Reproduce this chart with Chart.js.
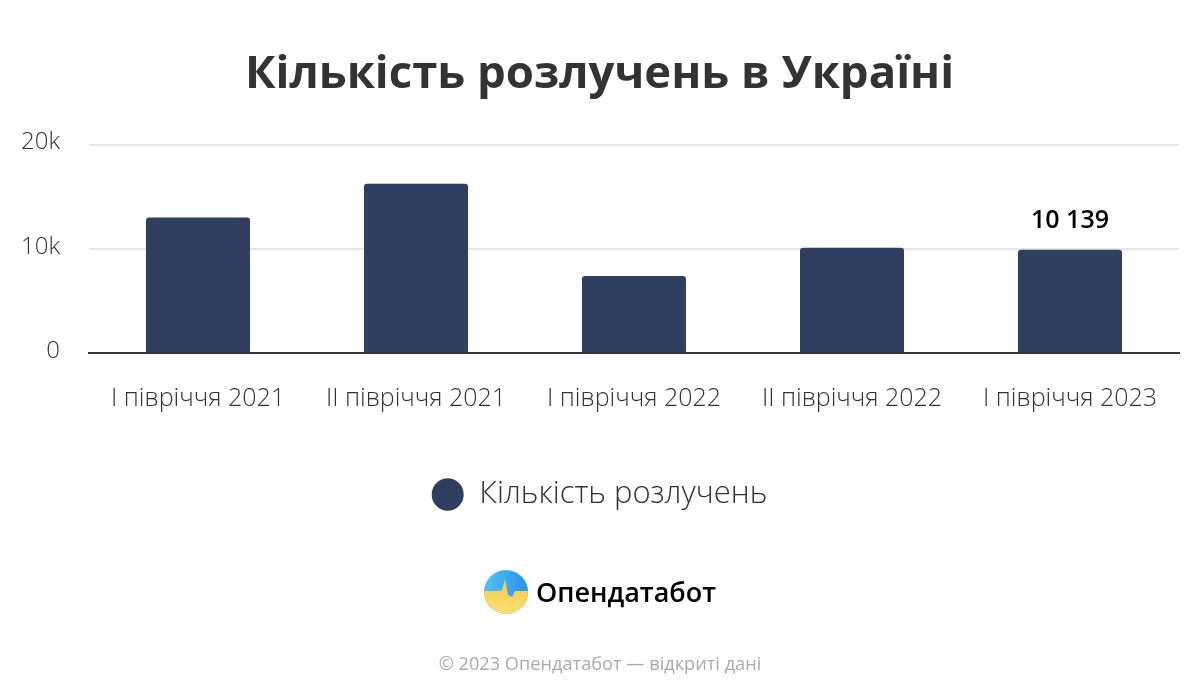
<!DOCTYPE html>
<html lang="uk">
<head>
<meta charset="utf-8">
<title>Кількість розлучень в Україні</title>
<script src="https://cdn.jsdelivr.net/npm/chart.js@4"></script>
<style>
  html, body { margin: 0; padding: 0; background: #fff; }
  #wrap { position: relative; width: 1200px; height: 700px; overflow: hidden; font-family: "Open Sans", sans-serif; }
  #logo { position: absolute; left: 484px; top: 570px; display: flex; align-items: center; }
  #logo span { margin-left: 8px; font-size: 27px; font-weight: 600; color: #000; line-height: 44px; }
  #credit { position: absolute; left: 0; width: 1200px; top: 651px; text-align: center; font-size: 18.2px; color: #aaa; }
</style>
</head>
<body>
<div id="wrap">
  <canvas id="divorceChart" width="1200" height="700"></canvas>
  <div id="logo">
    <svg width="44" height="44" viewBox="0 0 44 44">
      <defs>
        <linearGradient id="sky" x1="0" y1="0" x2="1" y2="0"><stop offset="0" stop-color="#4cc3f5"/><stop offset="1" stop-color="#2f8ff0"/></linearGradient>
        <linearGradient id="sun" x1="0" y1="0" x2="0" y2="1"><stop offset="0" stop-color="#f4c93f"/><stop offset="1" stop-color="#fbdf78"/></linearGradient>
        <clipPath id="disc"><circle cx="22" cy="22" r="22"/></clipPath>
      </defs>
      <g clip-path="url(#disc)">
        <rect width="44" height="44" fill="url(#sky)"/>
        <polygon points="0,21 15,21 18,20 21,9 24,25 28,27 31,21 44,21 44,44 0,44" fill="url(#sun)"/>
      </g>
    </svg>
    <span>Опендатабот</span>
  </div>
  <div id="credit">© 2023 Опендатабот — відкриті дані</div>
</div>
<script>
const categories = ['І півріччя 2021', 'ІІ півріччя 2021', 'І півріччя 2022', 'ІІ півріччя 2022', 'І півріччя 2023'];
const divorces = [13000, 16250, 7400, 10100, 9900];
const valueLabels = ['', '', '', '', '10 139'];
const yTicks = [0, 10000, 20000];

const fontName = '"Open Sans", sans-serif';

// Draws the single label above the last bar
const valueLabelPlugin = {
  id: 'valueLabels',
  afterDatasetsDraw(chart) {
    const ctx = chart.ctx;
    const bars = chart.getDatasetMeta(0).data;
    ctx.save();
    ctx.font = '600 25px ' + fontName;
    ctx.fillStyle = '#000';
    ctx.textAlign = 'center';
    ctx.textBaseline = 'middle';
    bars.forEach((bar, i) => {
      if (valueLabels[i]) ctx.fillText(valueLabels[i], bar.x, bar.y - 29);
    });
    ctx.restore();
  }
};

new Chart(document.getElementById('divorceChart').getContext('2d'), {
  type: 'bar',
  data: {
    labels: categories,
    datasets: [{
      label: 'Кількість розлучень',
      data: divorces,
      backgroundColor: '#2f3f5f',
      borderRadius: 3,
      barPercentage: 0.477,
      categoryPercentage: 1
    }]
  },
  options: {
    responsive: false,
    animation: false,
    layout: { padding: { left: 20, right: 21, top: 0, bottom: 180 } },
    plugins: {
      title: {
        display: true,
        text: 'Кількість розлучень в Україні',
        color: '#333',
        font: { family: fontName, size: 45.5, weight: '700' },
        padding: { top: 48, bottom: 42 }
      },
      legend: {
        position: 'bottom',
        labels: {
          usePointStyle: true,
          pointStyle: 'circle',
          boxHeight: 23,
          pointStyleWidth: 32,
          color: '#333',
          font: { family: fontName, size: 31, weight: '300' }
        }
      },
      tooltip: { enabled: false }
    },
    scales: {
      x: {
        grid: { display: false },
        border: { display: true, color: '#333', width: 2 },
        ticks: { color: '#333', padding: 23, maxRotation: 0, font: { family: fontName, size: 25, weight: '300' } },
        afterFit(scale) { scale.height = 116; }
      },
      y: {
        min: 0,
        max: 20000,
        afterBuildTicks(scale) { scale.ticks = yTicks.map(v => ({ value: v })); },
        afterFit(scale) { scale.width = 69; },
        grid: {
          drawTicks: false,
          lineWidth: 2,
          color: ctx => ctx.tick.value === 0 ? '#333' : '#e6e6e6'
        },
        border: { display: false },
        ticks: {
          color: '#333',
          padding: 29,
          labelOffset: -2,
          font: { family: fontName, size: 24, weight: '300' },
          callback: v => v === 0 ? '0' : (v / 1000) + 'k'
        }
      }
    }
  },
  plugins: [valueLabelPlugin]
});
</script>
</body>
</html>
